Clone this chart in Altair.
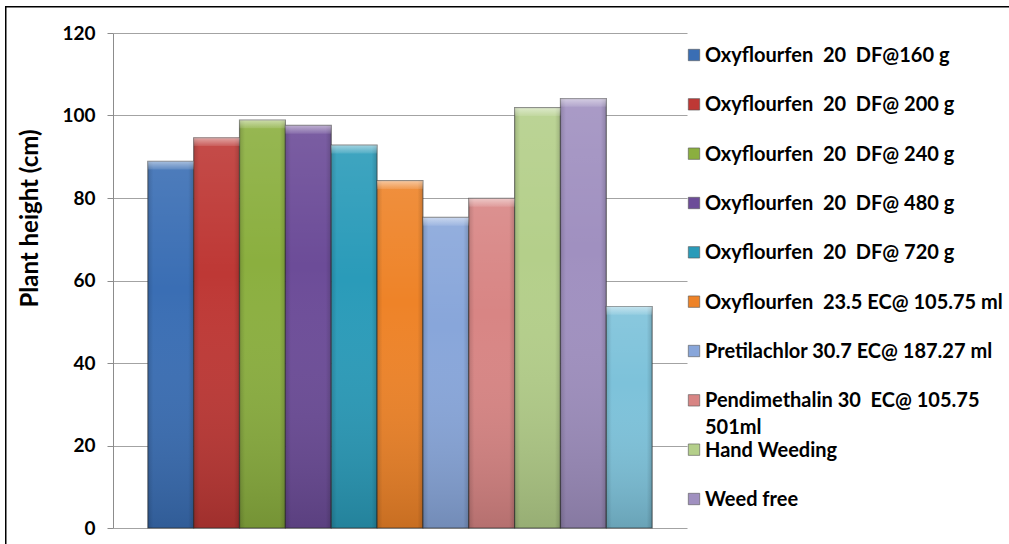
import altair as alt
import pandas as pd

# Treatments, in drawing order
treatments = [
    "Oxyflourfen  20  DF@160 g",
    "Oxyflourfen  20  DF@ 200 g",
    "Oxyflourfen  20  DF@ 240 g",
    "Oxyflourfen  20  DF@ 480 g",
    "Oxyflourfen  20  DF@ 720 g",
    "Oxyflourfen  23.5 EC@ 105.75 ml",
    "Pretilachlor 30.7 EC@ 187.27 ml",
    "Pendimethalin 30  EC@ 105.75 501ml",
    "Hand Weeding",
    "Weed free",
    "Weedy check",
]

# Plant height (cm) per treatment
heights = [88.9, 94.6, 98.9, 97.6, 92.8, 84.2, 75.3, 79.9, 101.9, 104.1, 53.7]

colors = [
    "#3A6EB4", "#BE3835", "#8BAF3F", "#6C4C98", "#2A9BB9", "#EE8328",
    "#88A6DA", "#D88584", "#B4CF8A", "#A090C0", "#7DC2DA",
]

# Legend entries (the last treatment is not listed)
legend_names = treatments[:10]
legend_labels = [
    "Oxyflourfen  20  DF@160 g",
    "Oxyflourfen  20  DF@ 200 g",
    "Oxyflourfen  20  DF@ 240 g",
    "Oxyflourfen  20  DF@ 480 g",
    "Oxyflourfen  20  DF@ 720 g",
    "Oxyflourfen  23.5 EC@ 105.75 ml",
    "Pretilachlor 30.7 EC@ 187.27 ml",
    "Pendimethalin 30  EC@ 105.75\n501ml",
    "Hand Weeding",
    "Weed free",
]

FONT = "Lato"


def keep_spaces(s):
    # keep double spaces visible in SVG text
    return s.replace("  ", " \u00a0")


bars_df = pd.DataFrame({"treatment": treatments, "height": heights})
bars_df["bevel"] = bars_df["height"] - 2.0

legend_df = pd.DataFrame({
    "treatment": legend_names,
    "label": [keep_spaces(s) for s in legend_labels],
})

x_enc = alt.X(
    "treatment:N", sort=treatments, axis=None,
    scale=alt.Scale(paddingInner=0, paddingOuter=0.76),
)
y_axis = alt.Axis(
    values=[0, 20, 40, 60, 80, 100, 120],
    labelFont=FONT, labelFontSize=19, labelFontWeight="bold", labelColor="black",
    labelPadding=12, tickSize=6, tickColor="#8c8c8c", domainColor="#8c8c8c",
    grid=True, gridColor="#a3a3a3", gridWidth=1,
    titleFont=FONT, titleFontSize=24, titleFontWeight="bold", titleColor="black",
    titleAngle=270, titleX=-83, titleY=185, titleAlign="center", titleBaseline="middle",
)
y_enc = alt.Y(
    "height:Q", title="Plant height (cm)", axis=y_axis,
    scale=alt.Scale(domain=[0, 120], nice=False),
)
color_enc = alt.Color(
    "treatment:N", scale=alt.Scale(domain=treatments, range=colors), legend=None,
)

vertical_shade = alt.Gradient(
    gradient="linear", x1=0, x2=0, y1=0, y2=1,
    stops=[
        alt.GradientStop(color="rgba(255,255,255,0.10)", offset=0),
        alt.GradientStop(color="rgba(255,255,255,0.0)", offset=0.35),
        alt.GradientStop(color="rgba(0,0,0,0.16)", offset=1),
    ],
)
side_shade = alt.Gradient(
    gradient="linear", x1=0, x2=1, y1=0, y2=0,
    stops=[
        alt.GradientStop(color="rgba(0,0,0,0.14)", offset=0),
        alt.GradientStop(color="rgba(0,0,0,0.0)", offset=0.12),
        alt.GradientStop(color="rgba(0,0,0,0.0)", offset=0.88),
        alt.GradientStop(color="rgba(0,0,0,0.16)", offset=1),
    ],
)
bevel_shade = alt.Gradient(
    gradient="linear", x1=0, x2=0, y1=0, y2=1,
    stops=[
        alt.GradientStop(color="rgba(255,255,255,0.50)", offset=0),
        alt.GradientStop(color="rgba(255,255,255,0.10)", offset=1),
    ],
)

base = alt.Chart(bars_df).encode(x=x_enc)
body = base.mark_bar(stroke="#2e2e2e", strokeOpacity=0.6, strokeWidth=1.2).encode(
    y=y_enc, color=color_enc
)
shade = base.mark_bar(color=vertical_shade).encode(y=alt.Y("height:Q"))
sides = base.mark_bar(color=side_shade).encode(y=alt.Y("height:Q"))
bevel = base.mark_rect(color=bevel_shade).encode(
    y=alt.Y("height:Q"), y2=alt.Y2("bevel")
)
bar_layer = alt.layer(body, shade, sides, bevel)

leg_y = alt.Y(
    "treatment:N", sort=legend_names, axis=None,
    scale=alt.Scale(type="point", domain=legend_names, range=[22, 466], padding=0),
)
leg_squares = alt.Chart(legend_df).mark_square(
    size=130, opacity=1, stroke="#555555", strokeWidth=0.6
).encode(x=alt.value(581), y=leg_y, color=color_enc)
leg_text = alt.Chart(legend_df).mark_text(
    align="left", baseline="alphabetic", dy=7, font=FONT, fontSize=20,
    fontWeight="bold", lineBreak="\n", lineHeight=27, color="black",
).encode(x=alt.value(592), y=leg_y, text="label:N")

# outer chart border: thin filled strips along the top and left edges
border_df = pd.DataFrame({"k": [0]})
border_top = alt.Chart(border_df).mark_rect(color="black").encode(
    x=alt.value(-108), x2=alt.value(900), y=alt.value(-27), y2=alt.value(-25.5)
)
border_left = alt.Chart(border_df).mark_rect(color="black").encode(
    x=alt.value(-108), x2=alt.value(-106.5), y=alt.value(-27), y2=alt.value(520)
)

chart = (
    alt.layer(bar_layer, leg_squares, leg_text, border_top, border_left)
    .resolve_scale(y="independent")
    .properties(
        width=574, height=495, autosize="none",
        padding={"left": 113, "top": 33, "right": 322, "bottom": 16},
        background="white",
    )
    .configure_view(stroke=None)
)

chart.save("out.html", embed_options={"renderer": "svg", "actions": False})
